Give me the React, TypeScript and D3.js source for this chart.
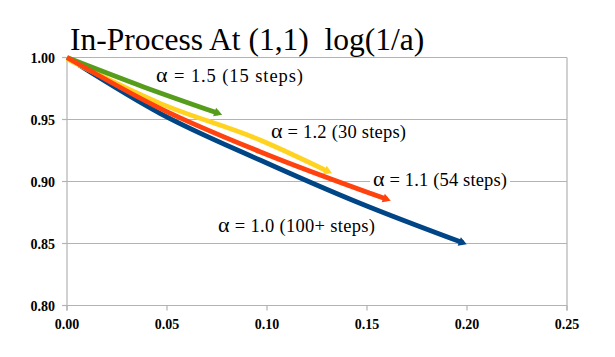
import React from "react";
import * as d3 from "d3";

const xTicks = [0, 0.05, 0.1, 0.15, 0.2, 0.25];
const yTicks = [0.8, 0.85, 0.9, 0.95, 1.0];

const alpha10: [number, number][] = [[0.006, 0.994], [0.0465, 0.955], [0.0965, 0.9173], [0.1465, 0.8824], [0.198, 0.8505]];
const alpha11: [number, number][] = [[0.0, 1.0], [0.0465, 0.959], [0.0965, 0.924], [0.16, 0.8856]];
const alpha12: [number, number][] = [[0.0, 0.999], [0.0465, 0.963], [0.0965, 0.9335], [0.1307, 0.908]];
const alpha15: [number, number][] = [[0.0, 1.0], [0.038, 0.9765], [0.0757, 0.955]];

const seriesNames = [" = 1.0 (100+ steps)", " = 1.1 (54 steps)", " = 1.2 (30 steps)", " = 1.5 (15 steps)"];
const title = "In-Process At (1,1)  log(1/a)";

const W = 615, H = 357;
const x = d3.scaleLinear().domain([0, 0.25]).range([67, 567]);
const y = d3.scaleLinear().domain([0.8, 1.0]).range([305.5, 57.5]);

const line = d3.line<[number, number]>().x(d => x(d[0])).y(d => y(d[1])).curve(d3.curveMonotoneX);

const series = [
  { data: alpha10, color: "#004586", label: seriesNames[0], lx: 218, ly: 232, len: 157, bg: false },
  { data: alpha12, color: "#ffd320", label: seriesNames[2], lx: 271, ly: 138, len: 135, bg: false },
  { data: alpha15, color: "#579d1c", label: seriesNames[3], lx: 156, ly: 82, len: 147, bg: false },
  { data: alpha11, color: "#ff420e", label: seriesNames[1], lx: 373, ly: 186, len: 134, bg: true },
];

const FONT = '"Liberation Serif", "Times New Roman", serif';

function Arrow({ data, color }: { data: [number, number][]; color: string }) {
  const n = data.length;
  const [x1, y1] = [x(data[n - 2][0]), y(data[n - 2][1])];
  const [x2, y2] = [x(data[n - 1][0]), y(data[n - 1][1])];
  const ang = (Math.atan2(y2 - y1, x2 - x1) * 180) / Math.PI;
  return (
    <path
      d="M4,0 L-4,-4.5 L-4,4.5 Z"
      fill={color}
      transform={`translate(${x2},${y2}) rotate(${ang})`}
    />
  );
}

export default function App() {
  const ts = { fontFamily: FONT } as React.CSSProperties;
  return (
    <svg width={W} height={H} style={{ position: "absolute", left: 0, top: 0, background: "#fff" }}>
      <rect width={W} height={H} fill="#fff" />
      <text x={70} y={50} fontSize={31.5} fill="#000" style={{ ...ts, whiteSpace: "pre" }}>{title}</text>
      {yTicks.map(t => (
        <line key={"g" + t} x1={x(0)} x2={x(0.25)} y1={y(t)} y2={y(t)} stroke="#b3b3b3" strokeWidth={1.2} />
      ))}
      <line x1={x(0)} x2={x(0)} y1={y(1)} y2={y(0.8) + 5} stroke="#b3b3b3" strokeWidth={1.2} />
      <line x1={x(0.25)} x2={x(0.25)} y1={y(1)} y2={y(0.8) + 5} stroke="#b3b3b3" strokeWidth={1.2} />
      {yTicks.map(t => (
        <g key={"y" + t}>
          <line x1={x(0) - 5} x2={x(0)} y1={y(t)} y2={y(t)} stroke="#b3b3b3" strokeWidth={1.2} />
          <text x={55} y={y(t) + 5} textAnchor="end" fontSize={14} fontWeight="bold" style={ts}>{t.toFixed(2)}</text>
        </g>
      ))}
      {xTicks.map(t => (
        <g key={"x" + t}>
          <line x1={x(t)} x2={x(t)} y1={y(0.8)} y2={y(0.8) + 5} stroke="#b3b3b3" strokeWidth={1.2} />
          <text x={x(t)} y={329} textAnchor="middle" fontSize={14} fontWeight="bold" style={ts}>{t.toFixed(2)}</text>
        </g>
      ))}
      {series.map(s => (
        <g key={s.label}>
          <path d={line(s.data) || ""} fill="none" stroke={s.color} strokeWidth={4.8} strokeLinejoin="round" />
          <Arrow data={s.data} color={s.color} />
        </g>
      ))}
      {series.map(s => (
        <g key={"l" + s.label}>
          {s.bg && <rect x={s.lx - 3} y={s.ly - 16} width={s.len + 6} height={21} fill="#fff" />}
          <text x={s.lx} y={s.ly} fontSize={18.5} fill="#000" textLength={s.len} lengthAdjust="spacing" style={{ ...ts, whiteSpace: "pre" }}>
            <tspan fontSize={22}>α</tspan>
            <tspan>{s.label}</tspan>
          </text>
        </g>
      ))}
    </svg>
  );
}
